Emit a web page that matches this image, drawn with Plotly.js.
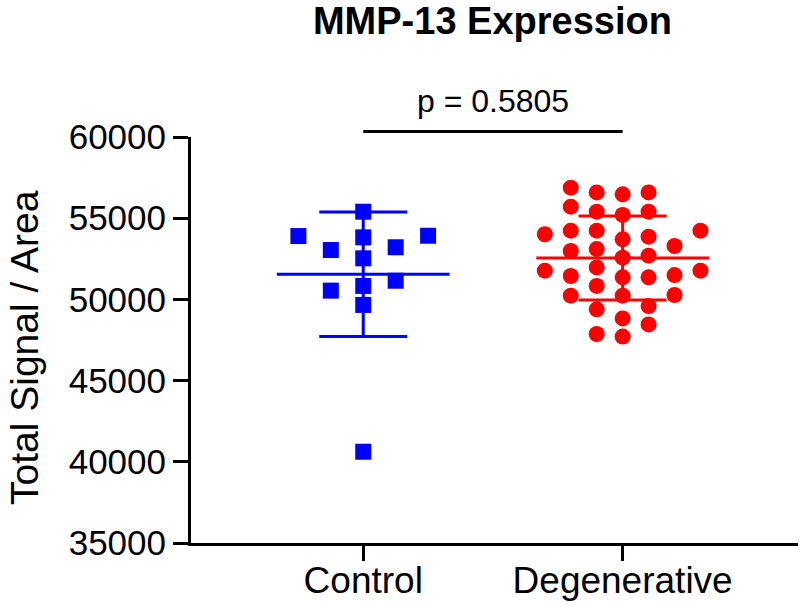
<!DOCTYPE html>
<html>
<head>
<meta charset="utf-8">
<script src="https://cdn.plot.ly/plotly-3.0.1.min.js"></script>
<style>
  html, body { margin: 0; padding: 0; background: #ffffff; }
  #chart { width: 800px; height: 606px; }
</style>
</head>
<body>
<div id="chart"></div>
<script>
// ---------- data ----------
const categories = ['Control', 'Degenerative'];
const controlValues = [55400, 53820, 53920, 53900, 53040, 53210, 52530, 51150, 50830, 50540, 49660, 40620];
const degenerativeValues = [
  54230, 51770,
  56590, 53700, 52570, 51360, 50230,
  56470, 55400, 54230, 53100, 51360, 50270, 48830, 47710,
  53290, 51970, 50830, 49590, 48460,
  56590, 55200, 53860, 52690, 51440, 49390, 47870,
  56880, 55710, 54010, 52980, 51500, 50230,
  55400, 54230, 51770
];
const yTickValues = [35000, 40000, 45000, 50000, 55000, 60000];
const titleText = 'MMP-13 Expression';
const yAxisTitle = 'Total Signal / Area';
const pValueLabel = 'p = 0.5805';

// ---------- helpers ----------
const FONT = 'Liberation Sans, Arial, Helvetica, sans-serif';
const colors = ['#0000ff', '#ff0000'];
const symbols = ['square', 'circle'];
const groups = [controlValues, degenerativeValues];

function mean(a) { return a.reduce((s, v) => s + v, 0) / a.length; }
function sd(a) {
  const m = mean(a);
  return Math.sqrt(a.reduce((s, v) => s + (v - m) * (v - m), 0) / (a.length - 1));
}
// simple column beeswarm: place points (ascending) in the nearest free column
function swarmColumns(values, minGap) {
  const order = values.map((v, i) => i).sort((a, b) => values[a] - values[b]);
  const col = new Array(values.length);
  const placed = [];
  for (const i of order) {
    for (let k = 0; ; k++) {
      const c = k === 0 ? 0 : (k % 2 ? -Math.ceil(k / 2) : Math.ceil(k / 2));
      if (!placed.some(p => p.c === c && Math.abs(p.v - values[i]) < minGap)) {
        col[i] = c; placed.push({ c: c, v: values[i] }); break;
      }
    }
  }
  return col;
}

const MIN_GAP = 1050;      // value units (~ one marker height)
const MEAN_HALF = 0.333;   // half length of the mean bar (x units)

const traces = [];
groups.forEach((vals, g) => {
  const cols = swarmColumns(vals, MIN_GAP);
  const maxCol = Math.max(1, ...cols.map(Math.abs));
  const spacing = Math.min(0.125, 0.3 / maxCol);
  traces.push({
    type: 'scatter', mode: 'markers',
    x: cols.map(c => g + c * spacing), y: vals,
    marker: { symbol: symbols[g], size: 16, color: colors[g], line: { width: 0 } },
    hoverinfo: 'y', showlegend: false
  });
  const m = mean(vals), s = sd(vals);
  traces.push({
    type: 'scatter', mode: 'lines',
    x: [g - MEAN_HALF, g + MEAN_HALF], y: [m, m],
    line: { color: colors[g], width: 3 },
    hoverinfo: 'skip', showlegend: false
  });
  traces.push({
    type: 'scatter', mode: 'markers',
    x: [g], y: [m],
    marker: { size: 1, color: colors[g], opacity: 0 },
    error_y: { type: 'data', array: [s], arrayminus: [s], symmetric: false, visible: true,
               color: colors[g], thickness: 3, width: 44 },
    hoverinfo: 'skip', showlegend: false
  });
});

const layout = {
  width: 800, height: 606,
  margin: { l: 191, r: 2, t: 137, b: 63, pad: 0 },
  paper_bgcolor: '#ffffff', plot_bgcolor: '#ffffff',
  showlegend: false,
  font: { family: FONT, color: '#000000' },
  title: {
    text: titleText,
    font: { family: FONT, size: 38, weight: 'bold', color: '#000000' },
    xref: 'container', x: 0.6156, xanchor: 'center',
    yref: 'container', y: 0.966, yanchor: 'middle'
  },
  xaxis: {
    range: [-0.664, 1.676],
    tickvals: [0, 1], ticktext: categories,
    showline: true, linecolor: '#000000', linewidth: 3,
    ticks: 'outside', ticklen: 15, tickwidth: 3, tickcolor: '#000000',
    tickfont: { family: FONT, size: 37, color: '#000000' },
    ticklabelstandoff: -12,
    showgrid: false, zeroline: false, fixedrange: true
  },
  yaxis: {
    range: [35000, 60000],
    tickvals: yTickValues, ticktext: yTickValues.map(String),
    showline: true, linecolor: '#000000', linewidth: 3,
    ticks: 'outside', ticklen: 15, tickwidth: 3, tickcolor: '#000000',
    tickfont: { family: FONT, size: 35, color: '#000000' },
    showgrid: false, zeroline: false, fixedrange: true
  },
  shapes: [{
    type: 'line', xref: 'x', yref: 'paper',
    x0: 0, x1: 1, y0: 1.0135, y1: 1.0135,
    line: { color: '#000000', width: 3 }
  }],
  annotations: [{
    text: pValueLabel, xref: 'x', yref: 'paper', x: 0.5, y: 1.0887,
    xanchor: 'center', yanchor: 'middle', showarrow: false,
    font: { family: FONT, size: 32, color: '#000000' }
  }, {
    text: yAxisTitle, xref: 'paper', yref: 'paper', x: -0.2735, y: 0.4828,
    xanchor: 'center', yanchor: 'middle', textangle: -90, showarrow: false,
    font: { family: FONT, size: 39, color: '#000000' }
  }]
};

Plotly.newPlot('chart', traces, layout, { displayModeBar: false, staticPlot: true });
</script>
</body>
</html>
